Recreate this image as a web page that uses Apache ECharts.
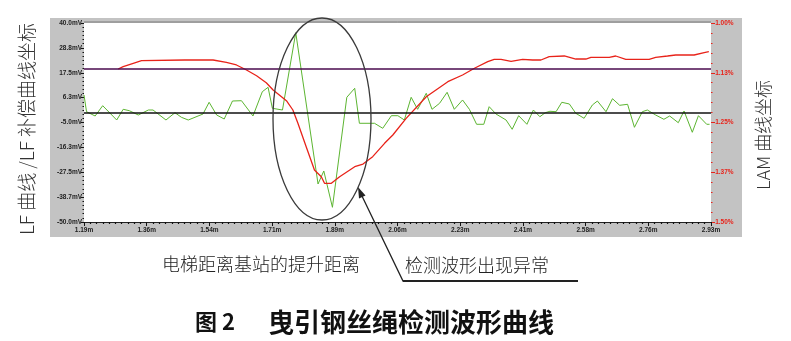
<!DOCTYPE html>
<html>
<head>
<meta charset="utf-8">
<script src="https://cdn.jsdelivr.net/npm/echarts@6/dist/echarts.min.js"></script>
<style>
html,body{margin:0;padding:0;background:#fff;}
#chart{width:791px;height:341px;}
</style>
</head>
<body>
<div id="chart"></div>
<script>
// ---- tick labels ----
const xLabels = ['1.19m','1.36m','1.54m','1.71m','1.89m','2.06m','2.23m','2.41m','2.58m','2.76m','2.93m'];
const yLeftLabels = ['-50.0mV','-38.7mV','-27.5mV','-16.3mV','-5.0mV','6.3mV','17.5mV','28.8mV','40.0mV']; // bottom -> top
const yRightLabels = ['-1.50%','-1.37%','-1.25%','-1.13%','-1.00%']; // bottom -> top

// ---- LF / LF compensation curve (green, left axis, mV) ----
const lfDist = [1.190,1.197,1.221,1.242,1.281,1.299,1.316,1.341,1.369,1.382,1.418,1.443,1.461,1.480,1.521,1.538,1.559,1.580,1.603,1.628,1.660,1.686,1.702,1.714,1.742,1.779,1.841,1.857,1.881,1.921,1.943,1.956,1.998,2.021,2.045,2.063,2.081,2.100,2.118,2.142,2.158,2.179,2.200,2.220,2.243,2.262,2.282,2.302,2.317,2.336,2.364,2.381,2.399,2.422,2.440,2.458,2.473,2.486,2.503,2.519,2.540,2.558,2.581,2.604,2.618,2.642,2.660,2.680,2.702,2.721,2.743,2.757,2.780,2.803,2.819,2.843,2.859,2.882,2.899,2.922,2.930];
const lfVal  = [7.44,-0.12,-2.06,2.60,-3.87,0.97,0.34,-1.61,0.65,0.65,-3.87,-0.57,-2.65,-3.87,-1.16,4.14,-1.61,-3.42,4.72,4.86,-2.06,8.93,10.92,1.42,0.65,35.61,-32.81,-26.93,-43.35,6.40,10.47,-5.36,-5.36,-7.62,-1.92,-1.92,-3.87,6.40,0.97,8.21,0.97,3.68,8.66,0.97,5.18,0.97,-5.81,-5.81,2.15,-1.16,-3.87,-8.08,-1.92,-5.81,0.65,-2.38,-0.57,0.07,-0.12,4.14,3.37,-0.84,-3.10,2.91,4.72,-0.12,5.76,2.78,3.23,-7.17,-0.12,0.65,-1.61,-3.55,-2.06,-5.09,0.20,-9.43,-1.92,-5.81,-5.81];

// ---- LAM curve (red, right axis, %) ----
const lamDist = [1.285,1.299,1.327,1.350,1.470,1.549,1.586,1.614,1.642,1.670,1.697,1.716,1.753,1.771,1.785,1.808,1.831,1.850,1.859,1.878,1.901,1.943,1.966,1.993,2.026,2.049,2.086,2.142,2.202,2.243,2.276,2.313,2.331,2.350,2.378,2.410,2.438,2.461,2.484,2.526,2.558,2.586,2.600,2.651,2.669,2.697,2.762,2.780,2.813,2.836,2.887,2.915,2.928];
const lamVal  = [-1.1156,-1.1098,-1.1013,-1.0947,-1.0930,-1.0930,-1.0987,-1.1055,-1.1181,-1.1324,-1.1500,-1.1683,-1.1952,-1.2186,-1.2520,-1.3108,-1.3693,-1.3862,-1.4028,-1.4028,-1.3862,-1.3611,-1.3543,-1.3359,-1.3023,-1.2814,-1.2395,-1.1852,-1.1475,-1.1307,-1.1138,-1.0972,-1.0912,-1.0912,-1.0962,-1.0912,-1.0930,-1.0930,-1.0847,-1.0829,-1.0905,-1.0905,-1.0862,-1.0862,-1.0829,-1.0912,-1.0912,-1.0862,-1.0829,-1.0804,-1.0804,-1.0746,-1.0721];

// ---- horizontal reference lines (left axis, mV) ----
const refPurple = 19.1;
const refBlack = -0.4;

// axis origin offsets (so that min is a multiple of the interval)
const X0 = 1.19, XSTEP = 0.1744;
const Y0 = -50, YSTEP = 11.25;

const lfData = lfDist.map((d, i) => [d - X0, lfVal[i] - Y0]);
const lamData = lamDist.map((d, i) => [d - X0, lamVal[i]]);

const chart = echarts.init(document.getElementById('chart'), null, {renderer: 'canvas'});
const tickFont = {fontSize: 6.5, fontWeight: 'bold', fontFamily: 'Liberation Sans, Arial, sans-serif'};

chart.setOption({
  animation: false,
  backgroundColor: '#ffffff',
  grid: {left: 84, right: 80, top: 23, bottom: 119, show: true, backgroundColor: '#ffffff', borderWidth: 0},
  xAxis: {
    type: 'value', min: 0, max: XSTEP * 10, interval: XSTEP,
    axisLine: {show: true, lineStyle: {color: '#222', width: 1}},
    axisTick: {show: true, length: 4, lineStyle: {color: '#111'}},
    minorTick: {show: true, splitNumber: 10, length: 2, lineStyle: {color: '#111', width: 1.2}},
    splitLine: {show: false},
    axisLabel: Object.assign({color: '#222', margin: 5, showMinLabel: true, showMaxLabel: true,
      formatter: v => xLabels[Math.round(v / XSTEP)] || ''}, tickFont)
  },
  yAxis: [{
    type: 'value', min: 0, max: 90, interval: YSTEP, position: 'left',
    axisLine: {show: false},
    axisTick: {show: true, length: 3, lineStyle: {color: '#111'}},
    minorTick: {show: true, splitNumber: 6, length: 1.5, lineStyle: {color: '#111', width: 1.2}},
    splitLine: {show: false},
    axisLabel: Object.assign({color: '#222', margin: 2, formatter: v => yLeftLabels[Math.round(v / YSTEP)] || ''}, tickFont)
  }, {
    type: 'value', min: -1.5, max: -1.0, interval: 0.125, position: 'right',
    axisLine: {show: false},
    axisTick: {show: true, length: 4, inside: false, lineStyle: {color: '#e8231a'}},
    minorTick: {show: true, splitNumber: 5, length: 1.5, lineStyle: {color: '#e8231a', width: 1.2}},
    splitLine: {show: false},
    axisLabel: Object.assign({color: '#e8231a', margin: 2, formatter: v => yRightLabels[Math.round((v + 1.5) / 0.125)] || ''}, tickFont)
  }],
  series: [{
    name: 'LF', type: 'line', yAxisIndex: 0, data: lfData, showSymbol: false, symbol: 'none',
    lineStyle: {color: '#5cb531', width: 1}, z: 3,
    markLine: {
      silent: true, symbol: 'none', label: {show: false}, animation: false,
      data: [
        {yAxis: refPurple - Y0, lineStyle: {color: '#4a0a4e', width: 1.5, type: 'solid'}},
        {yAxis: refBlack - Y0, lineStyle: {color: '#111111', width: 1.5, type: 'solid'}}
      ]
    }
  }, {
    name: 'LAM', type: 'line', yAxisIndex: 1, data: lamData, showSymbol: false, symbol: 'none',
    lineStyle: {color: '#e8231a', width: 1.3}, z: 4
  }],
  graphic: [
    // grey instrument frame
    {type: 'rect', z: -10, shape: {x: 50, y: 18, width: 692, height: 219}, style: {fill: '#c3c3c3'}},
    {type: 'line', z: 10, shape: {x1: 84, y1: 22, x2: 711, y2: 22}, style: {stroke: '#7a7a7a', lineWidth: 1}},
    // annotation ellipse
    {type: 'ellipse', z: 50, shape: {cx: 322, cy: 119, rx: 49, ry: 101}, style: {fill: null, stroke: '#3a3a3a', lineWidth: 1.3}},
    // arrow
    {type: 'polyline', z: 50, shape: {points: [[361, 194], [403, 281], [578, 281]]}, style: {fill: null, stroke: '#222', lineWidth: 1.3}},
    {type: 'polygon', z: 50, shape: {points: [[358, 187], [365.5, 195.5], [359, 198.5]]}, style: {fill: '#222'}},
    {type: 'line', z: 50, shape: {x1: 403, y1: 281, x2: 578, y2: 281}, style: {stroke: '#222', lineWidth: 2}},
    // axis titles
    {type: 'text', z: 50, x: 27, y: 129, rotation: Math.PI / 2,
      style: {text: 'LF 曲线 /LF 补偿曲线坐标', fill: '#333', fontSize: 19, fontFamily: 'Noto Sans CJK SC', fontWeight: 300, align: 'center', verticalAlign: 'middle'}},
    {type: 'text', z: 50, x: 763, y: 135, rotation: Math.PI / 2,
      style: {text: 'LAM 曲线坐标', fill: '#333', fontSize: 18, fontFamily: 'Noto Sans CJK SC', fontWeight: 300, align: 'center', verticalAlign: 'middle'}},
    // annotations below
    {type: 'text', z: 50, x: 162, y: 264,
      style: {text: '电梯距离基站的提升距离', fill: '#222', fontSize: 18, fontFamily: 'Noto Sans CJK SC', fontWeight: 300, align: 'left', verticalAlign: 'middle'}},
    {type: 'text', z: 50, x: 405, y: 265,
      style: {text: '检测波形出现异常', fill: '#222', fontSize: 18, fontFamily: 'Noto Sans CJK SC', fontWeight: 300, align: 'left', verticalAlign: 'middle'}},
    // figure caption
    {type: 'text', z: 50, x: 195, y: 322,
      style: {text: '图 2', fill: '#111', fontSize: 22, fontFamily: 'Noto Sans CJK SC', fontWeight: 'bold', align: 'left', verticalAlign: 'middle'}},
    {type: 'text', z: 50, x: 268, y: 322,
      style: {text: '曳引钢丝绳检测波形曲线', fill: '#111', fontSize: 26, fontFamily: 'Noto Sans CJK SC', fontWeight: 'bold', align: 'left', verticalAlign: 'middle'}}
  ]
});
</script>
</body>
</html>
